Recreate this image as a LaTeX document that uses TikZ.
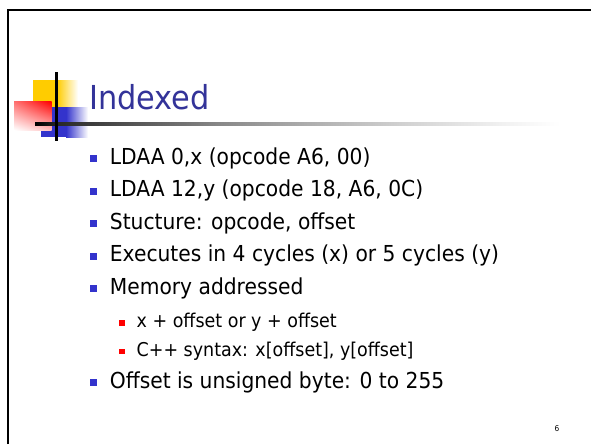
\documentclass[tikz,border=0pt]{standalone}
\usepackage{fontspec}
\usetikzlibrary{shadings}
\setmainfont{DejaVu Sans}[FakeStretch=0.92]
\definecolor{titleblue}{HTML}{333399}
\definecolor{bulletblue}{HTML}{3333CC}
\definecolor{logoyellow}{HTML}{FFCC00}
\definecolor{logoblue}{HTML}{3333CC}
\definecolor{logored}{HTML}{FF0000}
\definecolor{rulea}{HTML}{2A2A2A}
\definecolor{ruleb}{HTML}{888888}
\definecolor{rulec}{HTML}{AAAAAA}
\definecolor{ruled}{HTML}{D0D0D0}
\definecolor{rulee}{HTML}{F0F0F0}
\begin{document}
\begin{tikzpicture}[x=1pt,y=-1pt,
  titletext/.style={anchor=base west, inner sep=0, text=titleblue, font=\fontsize{33}{38}\selectfont},
  bodytext/.style={anchor=base west, inner sep=0, font=\fontsize{22}{26}\selectfont},
  subtext/.style={anchor=base west, inner sep=0, font=\fontsize{19}{22}\selectfont},
  mainbullet/.style={fill=bulletblue, minimum size=7, inner sep=0},
  subbullet/.style={fill=logored, minimum size=5.8, inner sep=0},
  pagenum/.style={inner sep=0, font=\fontsize{8}{9}\selectfont},
  frameline/.style={line width=2.2, line join=miter},
]
\useasboundingbox (0,0) rectangle (591,444);
\fill[white] (0,0) rectangle (591,444);

% slide frame
\draw[frameline] (8,444) -- (8,10) -- (591,10);

% logo squares
\fill[logoyellow] (33,80) rectangle (57,125);
\shade[left color=logoyellow, right color=white] (57,80) rectangle (78,125);
\fill[logoblue] (41,107) rectangle (66,137.3);
\shade[left color=logoblue, right color=white] (66,107) rectangle (88,137.3);
\shade[upper left=logored!55!white, upper right=logored,
       lower left=white, lower right=logored!25!white] (14,101.7) rectangle (51.7,130);

% title rule fading to the right
\shade[left color=black, right color=rulea] (35,122.65) rectangle (60,125.35);
\shade[left color=rulea, right color=ruleb] (59.8,122.65) rectangle (220,125.35);
\shade[left color=ruleb, right color=rulec] (219.8,122.65) rectangle (300,125.35);
\shade[left color=rulec, right color=ruled] (299.8,122.65) rectangle (400,125.35);
\shade[left color=ruled, right color=rulee] (399.8,122.65) rectangle (500,125.35);
\shade[left color=rulee, right color=white] (499.8,122.65) rectangle (560,125.35);

% vertical logo bar
\fill[black] (55,72.3) rectangle (57.7,140.7);

% title
\node[titletext] (title) at (89,109.3) {Indexed};

% bullets
\node[mainbullet] (b1) at (93.3,158.8) {};
\node[bodytext] (t1) at (109.7,164) {LDAA 0,x (opcode A6, 00)};
\node[mainbullet] (b2) at (93.3,191.3) {};
\node[bodytext] (t2) at (109.7,196.5) {LDAA 12,y (opcode 18, A6, 0C)};
\node[mainbullet] (b3) at (93.3,223.8) {};
\node[bodytext] (t3) at (109.7,229) {Stucture: opcode, offset};
\node[mainbullet] (b4) at (93.3,256.3) {};
\node[bodytext] (t4) at (109.7,261.5) {Executes in 4 cycles (x) or 5 cycles (y)};
\node[mainbullet] (b5) at (93.3,288.8) {};
\node[bodytext] (t5) at (109.7,294) {Memory addressed};
\node[subbullet] (s1) at (122.3,322.7) {};
\node[subtext] (u1) at (136.5,327.3) {x + offset or y + offset};
\node[subbullet] (s2) at (122.3,351.4) {};
\node[subtext] (u2) at (136.5,356) {C++ syntax: x[offset], y[offset]};
\node[mainbullet] (b6) at (93.3,382.8) {};
\node[bodytext] (t6) at (109.7,388) {Offset is unsigned byte: 0 to 255};

% page number
\node[pagenum] (page) at (557,429) {6};
\end{tikzpicture}
\end{document}
